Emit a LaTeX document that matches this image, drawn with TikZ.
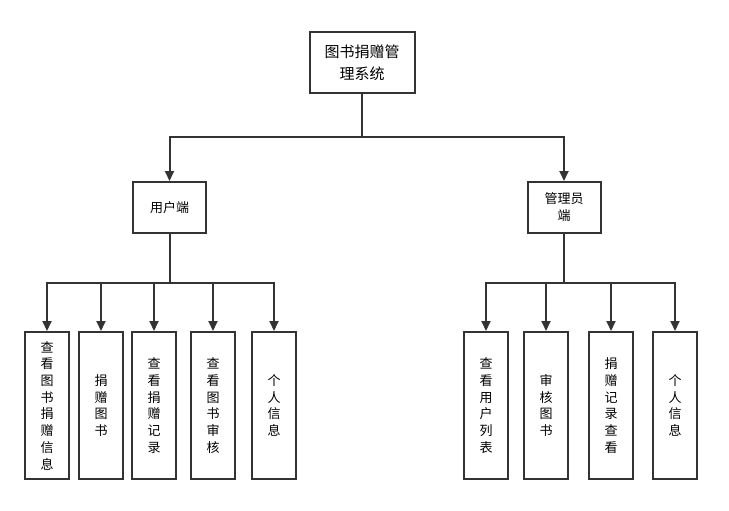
\documentclass[tikz,border=0pt]{standalone}
\usepackage{fontspec}
\setmainfont{Noto Sans CJK SC}
\usetikzlibrary{arrows.meta, positioning}
\definecolor{lnc}{HTML}{333333}
\tikzset{
  box/.style={draw=lnc, line width=2pt, fill=white, inner sep=0pt, align=center},
  topbox/.style={box, minimum width=105pt, minimum height=61pt, font=\fontsize{15}{21.5}\selectfont},
  midbox/.style={box, minimum width=73pt, minimum height=51pt, font=\fontsize{13}{17}\selectfont},
  leaf/.style={box, minimum width=44pt, minimum height=147pt, font=\fontsize{13}{16.7}\selectfont},
  lnk/.style={draw=lnc, line width=2pt},
  tra/.style={lnk, -{Triangle[length=10pt, width=9pt]}}
}

\begin{document}
\begin{tikzpicture}[x=1pt, y=-1pt]
		\useasboundingbox (0,0) rectangle (729,511);
		\node[topbox] (sys) at (362,62.5) {图书捐赠管\\理系统};
		\node[midbox] (user) at (169.5,207.5) {用户端};
		\node[midbox] (admin) at (564,207.5) {管理员\\端};
		% user side
		\node[leaf] (u1) at (47,405.5) {查\\看\\图\\书\\捐\\赠\\信\\息};
		\node[leaf] (u2) at (101,405.5) {捐\\赠\\图\\书};
		\node[leaf] (u3) at (154,405.5) {查\\看\\捐\\赠\\记\\录};
		\node[leaf] (u4) at (213,405.5) {查\\看\\图\\书\\审\\核};
		\node[leaf] (u5) at (274,405.5) {个\\人\\信\\息};
		% admin side
		\node[leaf] (a1) at (486,405.5) {查\\看\\用\\户\\列\\表};
		\node[leaf] (a2) at (546,405.5) {审\\核\\图\\书};
		\node[leaf] (a3) at (611,405.5) {捐\\赠\\记\\录\\查\\看};
		\node[leaf] (a4) at (675,405.5) {个\\人\\信\\息};
		\coordinate (j0) at (362,137);
		\coordinate (j1) at (169.5,283);
		\coordinate (j2) at (564,283);
		\draw[lnk] (sys) -- (j0);
		\draw[tra] (j0) -| (user);
		\draw[tra] (j0) -| (admin);
		\draw[lnk] (user) -- (j1);
		\draw[lnk] (admin) -- (j2);
		\foreach \n in {u1,u2,u3,u4,u5}
			\draw[tra] (j1) -| (\n);
		\foreach \n in {a1,a2,a3,a4}
			\draw[tra] (j2) -| (\n);
	\end{tikzpicture}
\end{document}
